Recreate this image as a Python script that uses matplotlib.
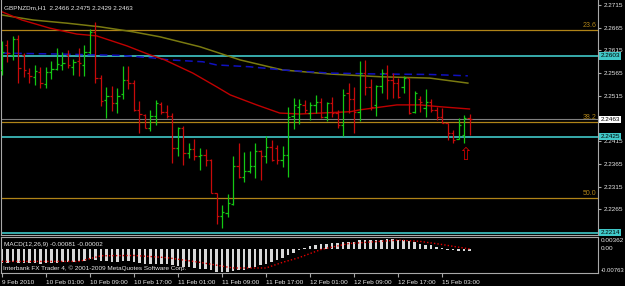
import matplotlib
matplotlib.use("Agg")
import matplotlib.pyplot as plt
import numpy as np

# ---------------- data ----------------
opens = [2.2572, 2.2627, 2.2605, 2.2640, 2.2604, 2.2565, 2.2557, 2.2568, 2.2541, 2.2568,
         2.2574, 2.2583, 2.2605, 2.2579, 2.2591, 2.2583, 2.2612, 2.2656, 2.2554, 2.2506,
         2.2515, 2.2499, 2.2519, 2.2550, 2.2543, 2.2484, 2.2473, 2.2444, 2.2471, 2.2497,
         2.2479, 2.2471, 2.2401, 2.2444, 2.2389, 2.2398, 2.2383, 2.2385, 2.2373, 2.2302,
         2.2251, 2.2258, 2.2277, 2.2361, 2.2337, 2.2350, 2.2361, 2.2394, 2.2383, 2.2402,
         2.2400, 2.2373, 2.2385, 2.2470, 2.2490, 2.2495, 2.2477, 2.2495, 2.2502, 2.2469,
         2.2500, 2.2477, 2.2451, 2.2521, 2.2508, 2.2480, 2.2565, 2.2535, 2.2495, 2.2537,
         2.2565, 2.2550, 2.2543, 2.2535, 2.2554, 2.2480, 2.2508, 2.2488, 2.2502, 2.2484,
         2.2469, 2.2455, 2.2433, 2.2420, 2.2429, 2.2466]
highs = [2.2636, 2.2638, 2.2647, 2.2649, 2.2610, 2.2576, 2.2583, 2.2579, 2.2579, 2.2592,
         2.2620, 2.2612, 2.2616, 2.2596, 2.2620, 2.2627, 2.2662, 2.2678, 2.2561, 2.2535,
         2.2537, 2.2532, 2.2581, 2.2581, 2.2550, 2.2504, 2.2475, 2.2484, 2.2506, 2.2502,
         2.2495, 2.2477, 2.2446, 2.2449, 2.2412, 2.2420, 2.2400, 2.2398, 2.2376, 2.2302,
         2.2275, 2.2299, 2.2383, 2.2411, 2.2392, 2.2394, 2.2411, 2.2396, 2.2427, 2.2418,
         2.2407, 2.2405, 2.2490, 2.2510, 2.2508, 2.2506, 2.2502, 2.2517, 2.2510, 2.2502,
         2.2513, 2.2484, 2.2530, 2.2544, 2.2535, 2.2592, 2.2594, 2.2552, 2.2539, 2.2573,
         2.2583, 2.2565, 2.2554, 2.2559, 2.2554, 2.2526, 2.2515, 2.2530, 2.2508, 2.2491,
         2.2488, 2.2456, 2.2440, 2.2466, 2.2473, 2.2475]
lows = [2.2561, 2.2590, 2.2594, 2.2544, 2.2557, 2.2543, 2.2539, 2.2532, 2.2532, 2.2551,
        2.2572, 2.2572, 2.2576, 2.2561, 2.2559, 2.2559, 2.2607, 2.2543, 2.2493, 2.2466,
        2.2482, 2.2478, 2.2508, 2.2530, 2.2482, 2.2434, 2.2444, 2.2438, 2.2450, 2.2475,
        2.2466, 2.2368, 2.2383, 2.2363, 2.2378, 2.2374, 2.2352, 2.2361, 2.2301, 2.2233,
        2.2225, 2.2248, 2.2275, 2.2334, 2.2326, 2.2345, 2.2335, 2.2330, 2.2367, 2.2372,
        2.2365, 2.2359, 2.2337, 2.2442, 2.2453, 2.2478, 2.2462, 2.2478, 2.2466, 2.2460,
        2.2468, 2.2444, 2.2427, 2.2478, 2.2433, 2.2460, 2.2517, 2.2484, 2.2471, 2.2522,
        2.2508, 2.2510, 2.2510, 2.2521, 2.2475, 2.2477, 2.2480, 2.2468, 2.2480, 2.2462,
        2.2455, 2.2418, 2.2412, 2.2419, 2.2412, 2.2429]
closes = [2.2611, 2.2609, 2.2640, 2.2576, 2.2572, 2.2559, 2.2570, 2.2543, 2.2567, 2.2573,
          2.2585, 2.2587, 2.2583, 2.2589, 2.2587, 2.2612, 2.2656, 2.2554, 2.2504, 2.2515,
          2.2499, 2.2515, 2.2550, 2.2543, 2.2484, 2.2475, 2.2444, 2.2471, 2.2499, 2.2479,
          2.2471, 2.2401, 2.2444, 2.2389, 2.2398, 2.2383, 2.2385, 2.2373, 2.2302, 2.2251,
          2.2259, 2.2280, 2.2361, 2.2337, 2.2350, 2.2361, 2.2394, 2.2383, 2.2402, 2.2373,
          2.2374, 2.2385, 2.2468, 2.2495, 2.2497, 2.2484, 2.2495, 2.2502, 2.2469, 2.2500,
          2.2477, 2.2451, 2.2517, 2.2508, 2.2480, 2.2565, 2.2535, 2.2491, 2.2537, 2.2565,
          2.2550, 2.2543, 2.2513, 2.2554, 2.2478, 2.2521, 2.2502, 2.2502, 2.2484, 2.2469,
          2.2455, 2.2433, 2.2418, 2.2451, 2.2466, 2.2463]

ma_red_idx = [0, 3.6, 8.7, 13.6, 17.2, 22.7, 26.5, 29.6, 34.7, 39, 41.5, 46.3, 50.5, 54.2, 63.3, 65, 71.8, 76, 79.6, 85]
ma_red_val = [2.2700, 2.2682, 2.2664, 2.2651, 2.2647, 2.2625, 2.2607, 2.2594, 2.2565, 2.2535,
              2.2517, 2.2495, 2.2477, 2.2475, 2.2480, 2.2484, 2.2495, 2.2495, 2.2491, 2.2486]

ma_olive_idx = [0, 5.6, 11.8, 17.8, 23.8, 28.7, 36, 43.3, 51, 59.6, 68.7, 77.8, 84.7]
ma_olive_val = [2.2693, 2.2682, 2.2675, 2.2667, 2.2656, 2.2645, 2.2623, 2.2594, 2.2572, 2.2563,
                2.2557, 2.2554, 2.2543]

ma_blue_idx = [0, 10.5, 21.5, 27, 30.5, 36.5, 39, 45, 51, 59.6, 68.7, 77.8, 84.7]
ma_blue_val = [2.2609, 2.2607, 2.2604, 2.2599, 2.2594, 2.2590, 2.2583, 2.2579, 2.2572, 2.2565,
               2.2563, 2.2562, 2.2559]

fib_levels = [2.2660, 2.2457, 2.2291]
fib_names = ["23.6", "38.2", "50.0"]
cyan_levels = [2.2603, 2.2425, 2.2214]
bid_price = 2.2463
arrow_idx = 84.2
arrow_price = 2.2385

price_ticks = [2.2715, 2.2665, 2.2615, 2.2565, 2.2515, 2.2465, 2.2415, 2.2365, 2.2315, 2.2265]
hidden_ticks = [2.2465]

macd_hist = [-0.0044, -0.0044, -0.0043, -0.0044, -0.0045, -0.0046, -0.0046, -0.0047, -0.0046, -0.0045,
             -0.0044, -0.0043, -0.0042, -0.0041, -0.0040, -0.0038, -0.0033, -0.0034, -0.0038, -0.0040,
             -0.0041, -0.0041, -0.0039, -0.0039, -0.0042, -0.0045, -0.0048, -0.0049, -0.0048, -0.0048,
             -0.0049, -0.0053, -0.0054, -0.0057, -0.0059, -0.0061, -0.0063, -0.0064, -0.0068, -0.0073,
             -0.0075, -0.0075, -0.0071, -0.0069, -0.0066, -0.0062, -0.0057, -0.0053, -0.0047, -0.0041,
             -0.0035, -0.0029, -0.0020, -0.0012, -0.0005, 0.0004, 0.0009, 0.0013, 0.0016, 0.0017,
             0.0019, 0.0019, 0.0021, 0.0023, 0.0023, 0.0027, 0.0029, 0.0028, 0.0028, 0.0030,
             0.0032, 0.0032, 0.0030, 0.0028, 0.0024, 0.0021, 0.0017, 0.0014, 0.0011, 0.0007,
             0.0003, -0.0002, -0.0005, -0.0006, -0.0007, -0.00081]
signal_idx = [0, 14, 18, 24, 30, 36, 42, 48, 51, 54, 58, 63, 72, 76, 80, 85]
signal_val = [-0.0040, -0.0040, -0.0022, -0.0021, -0.0028, -0.0043, -0.0061, -0.0061, -0.0043,
              -0.0028, -0.0002, 0.0017, 0.0028, 0.0024, 0.0014, -0.00002]

time_labels = ["9 Feb 2010", "10 Feb 01:00", "10 Feb 09:00", "10 Feb 17:00", "11 Feb 01:00",
               "11 Feb 09:00", "11 Feb 17:00", "12 Feb 01:00", "12 Feb 09:00", "12 Feb 17:00",
               "15 Feb 03:00"]

title_text = "GBPNZDm,H1  2.2466 2.2475 2.2429 2.2463"
macd_title = "MACD(12,26,9) -0.00081 -0.00002"
copyright_text = "Interbank FX Trader 4, \u00a9 2001-2009 MetaQuotes Software Corp."
macd_top_label = "0.00362"
macd_zero_label = "0.00"
macd_bot_label = "-0.00763"

# ---------------- style ----------------
FONT = ['Liberation Sans', 'DejaVu Sans']
FS = 4.6
TXT = '#e8e8e8'
GREEN = '#14c814'
RED = '#c80a0a'
CYAN = '#40c8c8'
FIB = '#b08418'
GRID = '#a8a8a8'

W, H = 625, 286
fig = plt.figure(figsize=(W / 100, H / 100), dpi=100, facecolor='black')


def rect(x0, y0, x1, y1):
    return [x0 / W, 1 - y1 / H, (x1 - x0) / W, (y1 - y0) / H]


ax = fig.add_axes(rect(1, 0, 598, 235))
ax2 = fig.add_axes(rect(1, 237, 598, 273))
for a in (ax, ax2):
    a.set_facecolor('black')
    for s in a.spines.values():
        s.set_color(GRID)
        s.set_linewidth(0.8)
ax.spines['top'].set_visible(False)

xmin, xmax = -0.18, 108.36
ax.set_xlim(xmin, xmax)
ax2.set_xlim(xmin, xmax)
ax.set_ylim(2.22085, 2.2726)
ax2.set_ylim(-0.0077, 0.0038)

idx = np.arange(len(opens))
o = np.array(opens); h = np.array(highs); l = np.array(lows); c = np.array(closes)
cols = np.where(c >= o, GREEN, RED)

# horizontal levels
for lv, nm in zip(fib_levels, fib_names):
    ax.axhline(lv, color=FIB, lw=0.9, zorder=1)
    ax.text(0.998, lv + 0.0002, nm, transform=ax.get_yaxis_transform(), ha='right', va='bottom',
            color=FIB, fontsize=FS + 0.4, family=FONT)
for lv in cyan_levels:
    ax.axhline(lv, color=CYAN, lw=1.2, zorder=1)
ax.axhline(bid_price, color='#808080', lw=0.8, zorder=1)

# moving averages
ax.plot(ma_olive_idx, ma_olive_val, color='#7a7a10', lw=1.1, zorder=2)
ax.plot(ma_blue_idx, ma_blue_val, color='#1010c0', lw=1.1, ls=(0, (5, 3)), zorder=2)
ax.plot(ma_red_idx, ma_red_val, color='#c00000', lw=1.0, zorder=2)

# OHLC bars
ax.vlines(idx, l, h, colors=cols, lw=0.9, zorder=3)
ax.hlines(o, idx - 0.4, idx, colors=cols, lw=0.9, zorder=3)
ax.hlines(c, idx, idx + 0.4, colors=cols, lw=0.9, zorder=3)

ax.text(arrow_idx, arrow_price, '\u21e7', color='#d00000', fontsize=12, ha='center', va='center',
        family='DejaVu Sans', zorder=4)

# price axis
ax.set_xticks([])
ax.yaxis.tick_right()
ax.set_yticks(price_ticks)
ax.set_yticklabels(["" if p in hidden_ticks else f"{p:.4f}" for p in price_ticks],
                   fontsize=FS, color=TXT, family=FONT)
ax.tick_params(axis='y', length=2.5, width=0.8, color=GRID, pad=1.5)

for lv, fc in [(cyan_levels[0], CYAN), (bid_price, 'white'), (cyan_levels[1], CYAN), (cyan_levels[2], CYAN)]:
    ax.text(1.0045, lv, f"{lv:.4f}", transform=ax.get_yaxis_transform(), ha='left', va='center',
            fontsize=FS, family=FONT, color='black', clip_on=False, zorder=10,
            bbox=dict(boxstyle='square,pad=0.2', fc=fc, ec='none'))

fig.text(4 / W, 1 - 8 / H, title_text, color=TXT, fontsize=FS, family=FONT, va='center', ha='left')

# MACD panel
ax2.bar(idx, macd_hist, width=0.42, color='#d8d8d8', zorder=2)
ax2.plot(signal_idx, signal_val, color='#e00000', lw=1.0, ls=(0, (1, 1.5)), zorder=3)
ax2.set_yticks([])
ax2.set_xticks(np.arange(0, 81, 8))
ax2.set_xticklabels(time_labels, fontsize=FS, color=TXT, family=FONT)
for lab in ax2.get_xticklabels():
    lab.set_ha('left')
ax2.tick_params(axis='x', length=3, width=0.8, color=GRID, pad=2)

ax2.text(1.005, 0.97, macd_top_label, transform=ax2.transAxes, ha='left', va='top', fontsize=FS,
         family=FONT, color=TXT, clip_on=False)
ax2.text(1.005, 0.0, macd_zero_label, transform=ax2.get_yaxis_transform(), ha='left', va='center',
         fontsize=FS, family=FONT, color=TXT, clip_on=False)
fig.text(624 / W, 1 - 270.5 / H, macd_bot_label, ha='right', va='center',
         fontsize=FS - 0.3, family=FONT, color=TXT)
ax2.text(0.005, 0.8, macd_title, transform=ax2.transAxes, ha='left', va='center', fontsize=FS,
         family=FONT, color=TXT)
ax2.text(0.003, 0.14, copyright_text, transform=ax2.transAxes, ha='left', va='center', fontsize=FS,
         family=FONT, color=TXT, zorder=5)

fig.savefig('out.png', dpi=100, facecolor='black')
